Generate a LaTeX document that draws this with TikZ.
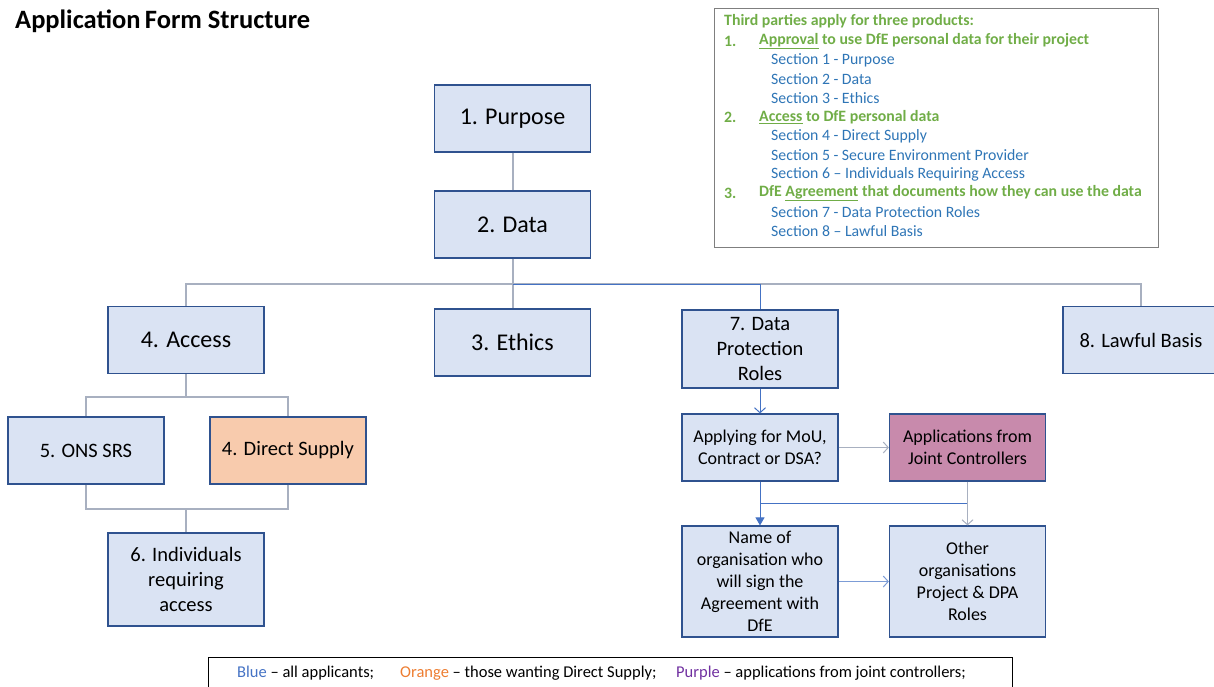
\documentclass[tikz,border=0pt]{standalone}
\usepackage{fontspec}
\setmainfont{Carlito}
\usetikzlibrary{arrows.meta}
\definecolor{boxfill}{HTML}{DAE3F3}
\definecolor{boxline}{HTML}{2F528F}
\definecolor{orfill}{HTML}{F8CBAD}
\definecolor{pufill}{RGB}{200,138,172}
\definecolor{gline}{RGB}{168,176,192}
\definecolor{bline}{HTML}{4472C4}
\definecolor{tgreen}{HTML}{70AD47}
\definecolor{tblue}{HTML}{2E75B6}
\definecolor{lorange}{HTML}{ED7D31}
\definecolor{lpurple}{HTML}{7030A0}
\definecolor{frameg}{HTML}{7F7F7F}
\begin{document}
\begin{tikzpicture}[x=1pt,y=-1pt,
 fbox/.style={draw=boxline, fill=boxfill, line width=1.2pt, minimum width=156pt, minimum height=67pt, inner sep=2pt, align=center, text=black},
 bigt/.style={font=\fontsize{24}{29}\selectfont},
 midt/.style={font=\fontsize{20.5}{25}\selectfont},
 smt/.style={font=\fontsize{18}{22}\selectfont},
 gl/.style={draw=gline, line width=2pt},
 bl/.style={draw=bline, line width=1pt},
 openarrow/.style={-{Straight Barb[length=5pt,width=11pt,line width=1pt]}},
 fillarrow/.style={-{Triangle[length=8pt,width=9pt]}},
 tline/.style={anchor=west, inner sep=0pt, font=\fontsize{15.8}{19}\selectfont},
 tbold/.style={anchor=west, inner sep=0pt, text=tgreen, font=\bfseries\fontsize{15.8}{19}\selectfont},
 lgd/.style={anchor=west, inner sep=0pt, font=\fontsize{16.5}{19}\selectfont},
]
\useasboundingbox (0,0) rectangle (1214,686);

% title
\node[anchor=west, inner sep=0pt, font=\bfseries\fontsize{26.5}{31}\selectfont] (title) at (15,21) {Application\,Form Structure};

% info box
\node[draw=frameg, line width=0.8pt, minimum width=444pt, minimum height=239pt, inner sep=0pt] (info) at (936,127.5) {};
\node[tbold] (t0) at (724,21) {Third parties apply for three products:};
\node[tbold] (n1) at (724,41) {1.};
\node[tbold] (t1) at (759,41) {\underline{Approval} to use DfE personal data for their project};
\node[tline, text=tblue] (s1) at (771,60) {Section 1 - Purpose};
\node[tline, text=tblue] (s2) at (771,79) {Section 2 - Data};
\node[tline, text=tblue] (s3) at (771,98) {Section 3 - Ethics};
\node[tbold] (n2) at (724,117) {2.};
\node[tbold] (t2) at (759,117) {\underline{Access} to DfE personal data};
\node[tline, text=tblue] (s4) at (771,136) {Section 4 - Direct Supply};
\node[tline, text=tblue] (s5) at (771,155) {Section 5 - Secure Environment Provider};
\node[tline, text=tblue] (s6) at (771,174) {Section 6 -- Individuals Requiring Access};
\node[tbold] (n3) at (724,193) {3.};
\node[tbold] (t3) at (759,193) {DfE \underline{Agreement} that documents how they can use the data};
\node[tline, text=tblue] (s7) at (771,212) {Section 7 - Data Protection Roles};
\node[tline, text=tblue] (s8) at (771,231) {Section 8 -- Lawful Basis};

% boxes
\node[fbox, bigt] (purpose) at (512.5,118.5) {1. Purpose};
\node[fbox, bigt] (data) at (512.5,224.5) {2. Data};
\node[fbox, bigt] (access) at (186,340) {4. Access};
\node[fbox, bigt] (ethics) at (512.5,342.5) {3. Ethics};
\node[fbox, midt, minimum height=78pt] (dpr) at (760,349) {7. Data\\Protection\\Roles};
\node[fbox, midt] (lawful) at (1141,340) {8. Lawful Basis};
\node[fbox, midt] (ons) at (86,450.5) {5. ONS SRS};
\node[fbox, midt, fill=orfill] (direct) at (288,450.5) {4. Direct Supply};
\node[fbox, midt, minimum height=93pt] (indiv) at (186,579.5) {6. Individuals\\requiring\\access};
\node[fbox, smt] (mou) at (760,447.5) {Applying for MoU,\\Contract or DSA?};
\node[fbox, smt, fill=pufill] (joint) at (967.5,447.5) {Applications from\\Joint Controllers};
\node[fbox, smt, minimum height=111pt] (name) at (760,581.5) {Name of\\organisation who\\will sign the\\Agreement with\\DfE};
\node[fbox, smt, minimum height=111pt] (other) at (967.5,581.5) {Other\\organisations\\Project \& DPA\\Roles};

% junction coordinates
\coordinate (jd) at (512.5,284);
\coordinate (ja) at (186,397);
\coordinate (jb) at (186,509);
\coordinate (jm) at (760,503);

% connectors
\draw[gl] (purpose.south) -- (data.north);
\draw[gl] (data.south) -- (jd);
\draw[gl] (jd) -| (access.north);
\draw[gl] (jd) -- (ethics.north);
\draw[gl] (jd) -| (lawful.north);
\draw[bl] (jd) -| (dpr.north);
\draw[gl] (access.south) -- (ja);
\draw[gl] (ja) -| (ons.north);
\draw[gl] (ja) -| (direct.north);
\draw[gl] (ons.south) |- (jb);
\draw[gl] (direct.south) |- (jb);
\draw[gl] (jb) -- (indiv.north);
\draw[bl, openarrow] (dpr.south) -- (mou.north);
\draw[draw=gline, line width=1.5pt, openarrow] (mou.east) -- (joint.west);
\draw[bl, fillarrow] (mou.south) -- (name.north);
\draw[bl] (jm) -- (jm -| joint.south);
\draw[draw=gline, line width=1.5pt, openarrow] (joint.south) -- (other.north);
\draw[draw=bline!70, line width=1pt, openarrow] (name.east) -- (other.west);

% legend
\node[draw=black, line width=0.8pt, minimum width=804pt, minimum height=40pt, inner sep=0pt] (legend) at (610,677) {};
\node[lgd] (lg1) at (237,673) {\textcolor{bline}{Blue} -- all applicants;};
\node[lgd] (lg2) at (400,673) {\textcolor{lorange}{Orange} -- those wanting Direct Supply;};
\node[lgd] (lg3) at (676,673) {\textcolor{lpurple}{Purple} -- applications from joint controllers;};
\end{tikzpicture}
\end{document}
